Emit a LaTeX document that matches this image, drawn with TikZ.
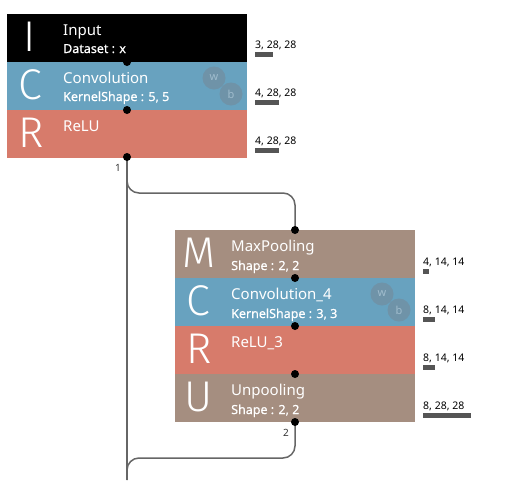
\documentclass[tikz,border=0pt]{standalone}
\usepackage{fontspec}
\setmainfont{Noto Sans}
\newfontfamily\subfamily[FakeBold=0.5]{Noto Sans}
\newfontfamily\bigfamily{Fira Sans Light}
\definecolor{cblue}{HTML}{68A2BF}
\definecolor{cred}{HTML}{D77B6B}
\definecolor{cbrown}{HTML}{A58E80}
\definecolor{cwire}{HTML}{666666}
\definecolor{cbar}{HTML}{555555}
\definecolor{ccirc}{HTML}{6F93A8}
\definecolor{ccirctext}{HTML}{A0BCCD}
\begin{document}
\begin{tikzpicture}[x=1pt,y=-1pt,
  layerbox/.style={minimum width=240pt,minimum height=48pt,inner sep=0pt,outer sep=0pt,anchor=north west},
  bigletter/.style={text=white,font=\bigfamily\fontsize{43}{43}\selectfont,anchor=base,inner sep=0pt},
  title/.style={text=white,font=\fontsize{15}{15}\selectfont,anchor=base west,inner sep=0pt,text depth=0pt},
  sub/.style={text=white,font=\subfamily\fontsize{12.5}{12.5}\selectfont,anchor=base west,inner sep=0pt,text depth=0pt},
  shapelbl/.style={text=black,font=\fontsize{10.5}{11}\selectfont,anchor=base west,inner sep=0pt,text depth=0pt},
  bar/.style={fill=cbar,draw=none},
  dot/.style={circle,fill=black,minimum size=8pt,inner sep=0pt},
  wire/.style={draw=cwire,line width=1.5pt,rounded corners=12pt},
  param/.style={circle,fill=ccirc,minimum size=23pt,inner sep=0pt,text=ccirctext,font=\fontsize{11}{11}\selectfont\bfseries},
  idx/.style={text=black!80,font=\fontsize{10}{10}\selectfont,inner sep=0pt}]
\useasboundingbox (0,0) rectangle (506,480);
% wires
\coordinate (w1end) at (127,480);
\draw[wire] (127,157) -- (w1end);
\draw[wire] (127,157) -- (127,193) -- (295,193) -- (295,230);
\draw[wire] (295,422) -- (295,458) -- (127,458) -- (w1end);
% block 1
\node[layerbox,fill=black] (in) at (7,14) {};
\node[layerbox,fill=cblue] (cv) at (7,62) {};
\node[layerbox,fill=cred] (re) at (7,110) {};
\node[bigletter] (inL) at (30,51.5) {I};
\node[title] (inT) at (63,35) {Input};
\node[sub] (inS) at (63,53) {Dataset : x};
\node[bigletter] (cvL) at (30.5,99.5) {C};
\node[title] (cvT) at (63,83) {Convolution};
\node[sub] (cvS) at (63,101) {KernelShape : 5, 5};
\node[param] (cvw) at (214,78) {w};
\node[param] (cvb) at (231,94) {b};
\node[bigletter] (reL) at (31.5,147.5) {R};
\node[title] (reT) at (63,131) {ReLU};
% block 2
\node[layerbox,fill=cbrown] (mp) at (175,230) {};
\node[layerbox,fill=cblue] (cv4) at (175,278) {};
\node[layerbox,fill=cred] (re3) at (175,326) {};
\node[layerbox,fill=cbrown] (up) at (175,374) {};
\node[bigletter] (mpL) at (199.5,267.5) {M};
\node[title] (mpT) at (231,251) {MaxPooling};
\node[sub] (mpS) at (231,270) {Shape : 2, 2};
\node[bigletter] (cv4L) at (198.5,315.5) {C};
\node[title] (cv4T) at (231,299) {Convolution\_4};
\node[sub] (cv4S) at (231,318) {KernelShape : 3, 3};
\node[param] (cv4w) at (382,294) {w};
\node[param] (cv4b) at (399,310) {b};
\node[bigletter] (re3L) at (199.5,363.5) {R};
\node[title] (re3T) at (231,347) {ReLU\_3};
\node[bigletter] (upL) at (198.5,411.5) {U};
\node[title] (upT) at (231,395) {Unpooling};
\node[sub] (upS) at (231,414) {Shape : 2, 2};
% dots
\node[dot] (d1) at (127,62) {};
\node[dot] (d2) at (127,110) {};
\node[dot] (d3) at (127,157) {};
\node[dot] (d4) at (295,230) {};
\node[dot] (d5) at (295,278) {};
\node[dot] (d6) at (295,326) {};
\node[dot] (d7) at (295,374) {};
\node[dot] (d8) at (295,422) {};
\node[idx] (i1) at (118,168) {1};
\node[idx] (i2) at (286,433) {2};
% shape labels
\node[shapelbl] (s1) at (255,48) {3, 28, 28};
\fill[bar] (255,52) rectangle (273,57);
\node[shapelbl] (s2) at (255,96) {4, 28, 28};
\fill[bar] (255,100) rectangle (279,105);
\node[shapelbl] (s3) at (255,144) {4, 28, 28};
\fill[bar] (255,148) rectangle (279,153);
\node[shapelbl] (s4) at (423,265) {4, 14, 14};
\fill[bar] (423,269) rectangle (429,274);
\node[shapelbl] (s5) at (423,313) {8, 14, 14};
\fill[bar] (423,317) rectangle (435,322);
\node[shapelbl] (s6) at (423,361) {8, 14, 14};
\fill[bar] (423,365) rectangle (435,370);
\node[shapelbl] (s7) at (423,409) {8, 28, 28};
\fill[bar] (423,413) rectangle (471,418);
\end{tikzpicture}
\end{document}
